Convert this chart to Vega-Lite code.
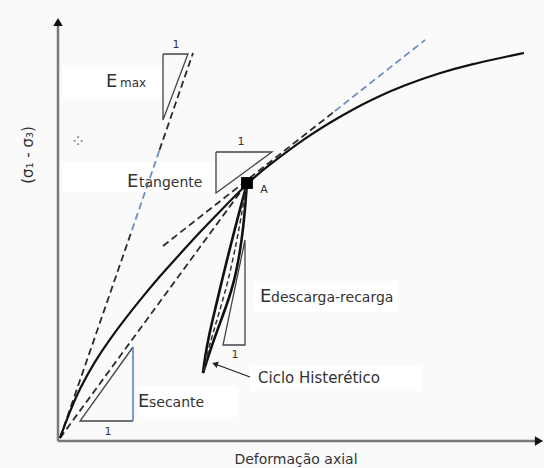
{
  "$schema": "https://vega.github.io/schema/vega-lite/v6.json",
  "width": 544,
  "height": 468,
  "autosize": {"type": "fit", "contains": "padding"},
  "padding": 0,
  "background": "#fafafa",
  "config": {"view": {"stroke": null}, "text": {"font": "DejaVu Sans", "color": "#333333"}},
  "encoding": {
    "x": {"field": "x", "type": "quantitative", "scale": {"domain": [-58, 486], "nice": false, "zero": false}, "axis": null},
    "y": {"field": "y", "type": "quantitative", "scale": {"domain": [-27, 441], "nice": false, "zero": false}, "axis": null}
  },
  "layer": [
    {
      "data": {"values": [
        {"x": 5, "x2": 105, "y": 344, "y2": 376},
        {"x": 5, "x2": 157, "y": 249, "y2": 279},
        {"x": 197, "x2": 340, "y": 129, "y2": 160},
        {"x": 192, "x2": 364, "y": 50, "y2": 75},
        {"x": 79, "x2": 179, "y": 24, "y2": 55}
      ]},
      "mark": {"type": "rect", "fill": "#ffffff"},
      "encoding": {"x2": {"field": "x2"}, "y2": {"field": "y2"}}
    },
    {
      "data": {"values": [
        {"x": 0, "y": 0, "x2": 0, "y2": 417},
        {"x": 0, "y": 0, "x2": 479, "y2": 0}
      ]},
      "mark": {"type": "rule", "stroke": "#7a7a7a", "strokeWidth": 2.5},
      "encoding": {"x2": {"field": "x2"}, "y2": {"field": "y2"}}
    },
    {
      "data": {"values": [
        {"x": 0, "y": 419, "dir": "up"},
        {"x": 481, "y": 0, "dir": "right"}
      ]},
      "mark": {"type": "point", "filled": true, "color": "#111111", "size": 90, "opacity": 1},
      "encoding": {"shape": {"field": "dir", "type": "nominal", "scale": {"domain": ["up", "right"], "range": ["triangle-up", "triangle-right"]}, "legend": null}}
    },
    {
      "data": {"values": [
        {"seg": "emax1", "x": 2, "y": 3}, {"seg": "emax1", "x": 74, "y": 211},
        {"seg": "emax3", "x": 101.5, "y": 291}, {"seg": "emax3", "x": 135, "y": 388},
        {"seg": "secant", "x": 2, "y": 3}, {"seg": "secant", "x": 189, "y": 258},
        {"seg": "tan1", "x": 105, "y": 195}, {"seg": "tan1", "x": 277, "y": 330}
      ]},
      "mark": {"type": "line", "color": "#2a2a2a", "strokeWidth": 1.8, "strokeDash": [7, 4]},
      "encoding": {"detail": {"field": "seg"}}
    },
    {
      "data": {"values": [
        {"seg": "emax2", "x": 74, "y": 211}, {"seg": "emax2", "x": 101.5, "y": 291},
        {"seg": "tan2", "x": 277, "y": 330}, {"seg": "tan2", "x": 367, "y": 401}
      ]},
      "mark": {"type": "line", "color": "#6d8fc4", "strokeWidth": 1.8, "strokeDash": [7, 4]},
      "encoding": {"detail": {"field": "seg"}}
    },
    {
      "data": {"values": [
        {"tri": "emax", "i": 0, "x": 105, "y": 387}, {"tri": "emax", "i": 1, "x": 130, "y": 387}, {"tri": "emax", "i": 2, "x": 105, "y": 321}, {"tri": "emax", "i": 3, "x": 105, "y": 387},
        {"tri": "etan", "i": 0, "x": 158, "y": 289}, {"tri": "etan", "i": 1, "x": 214, "y": 289}, {"tri": "etan", "i": 2, "x": 158, "y": 248}, {"tri": "etan", "i": 3, "x": 158, "y": 289},
        {"tri": "edesc", "i": 0, "x": 187, "y": 201}, {"tri": "edesc", "i": 1, "x": 187, "y": 96}, {"tri": "edesc", "i": 2, "x": 165, "y": 96}, {"tri": "edesc", "i": 3, "x": 187, "y": 201},
        {"tri": "esec", "i": 0, "x": 75, "y": 94}, {"tri": "esec", "i": 1, "x": 22, "y": 20}, {"tri": "esec", "i": 2, "x": 75, "y": 20}
      ]},
      "mark": {"type": "line", "color": "#444444", "strokeWidth": 1.3},
      "encoding": {"detail": {"field": "tri"}, "order": {"field": "i", "type": "quantitative"}}
    },
    {
      "data": {"values": [{"x": 75, "y": 20, "y2": 94}]},
      "mark": {"type": "rule", "stroke": "#5b86c8", "strokeWidth": 1.6},
      "encoding": {"y2": {"field": "y2"}}
    },
    {
      "data": {"values": [
        {"x": 2, "y": 3}, {"x": 12, "y": 30}, {"x": 22, "y": 53}, {"x": 37, "y": 80},
        {"x": 52, "y": 102}, {"x": 67, "y": 122}, {"x": 82, "y": 141}, {"x": 102, "y": 165},
        {"x": 122, "y": 187}, {"x": 142, "y": 209}, {"x": 167, "y": 235}, {"x": 189, "y": 257},
        {"x": 200, "y": 267}, {"x": 214, "y": 278}, {"x": 247, "y": 303}, {"x": 281, "y": 324},
        {"x": 314, "y": 342}, {"x": 347, "y": 356}, {"x": 381, "y": 368}, {"x": 414, "y": 377},
        {"x": 447, "y": 384}, {"x": 466, "y": 388}
      ]},
      "mark": {"type": "line", "color": "#111111", "strokeWidth": 2.2, "interpolate": "basis"}
    },
    {
      "data": {"values": [
        {"b": "left", "x": 189, "y": 258}, {"b": "left", "x": 181, "y": 228}, {"b": "left", "x": 174, "y": 201}, {"b": "left", "x": 164, "y": 161},
        {"b": "left", "x": 157, "y": 131}, {"b": "left", "x": 151, "y": 106}, {"b": "left", "x": 147, "y": 84}, {"b": "left", "x": 145, "y": 68},
        {"b": "right", "x": 189, "y": 258}, {"b": "right", "x": 187, "y": 231}, {"b": "right", "x": 184, "y": 201}, {"b": "right", "x": 177, "y": 161},
        {"b": "right", "x": 168, "y": 134}, {"b": "right", "x": 159, "y": 110}, {"b": "right", "x": 151, "y": 87}, {"b": "right", "x": 145, "y": 68}
      ]},
      "mark": {"type": "line", "color": "#111111", "strokeWidth": 2.6, "interpolate": "basis"},
      "encoding": {"detail": {"field": "b"}}
    },
    {
      "data": {"values": [
        {"x": 189, "y": 258}, {"x": 184, "y": 229}, {"x": 179, "y": 201}, {"x": 170.5, "y": 161},
        {"x": 162.5, "y": 133}, {"x": 155, "y": 108}, {"x": 149, "y": 86}, {"x": 146, "y": 70}
      ]},
      "mark": {"type": "line", "color": "#333333", "strokeWidth": 1.5, "strokeDash": [5, 3], "interpolate": "basis"}
    },
    {
      "data": {"values": [{"x": 189, "y": 258}]},
      "mark": {"type": "square", "color": "#000000", "size": 140, "opacity": 1}
    },
    {
      "data": {"values": [{"x": 192, "y": 64, "x2": 157, "y2": 77}]},
      "mark": {"type": "rule", "stroke": "#222222", "strokeWidth": 1.3},
      "encoding": {"x2": {"field": "x2"}, "y2": {"field": "y2"}}
    },
    {
      "data": {"values": [{"x": 157, "y": 77}]},
      "mark": {"type": "point", "shape": "triangle-up", "filled": true, "color": "#222222", "size": 45, "angle": 289, "opacity": 1}
    },
    {
      "data": {"values": [
        {"x": 48, "y": 354, "t": "E"}, {"x": 69, "y": 254, "t": "E"}, {"x": 202, "y": 139, "t": "E"}, {"x": 80, "y": 34, "t": "E"}
      ]},
      "mark": {"type": "text", "fontSize": 18, "align": "left", "baseline": "alphabetic"},
      "encoding": {"text": {"field": "t"}}
    },
    {
      "data": {"values": [
        {"x": 81, "y": 254, "t": "tangente"}, {"x": 213, "y": 139, "t": "descarga-recarga"}, {"x": 91, "y": 34, "t": "secante"}
      ]},
      "mark": {"type": "text", "fontSize": 14, "align": "left", "baseline": "alphabetic"},
      "encoding": {"text": {"field": "t"}}
    },
    {
      "data": {"values": [{"x": 62, "y": 354, "t": "max"}]},
      "mark": {"type": "text", "fontSize": 12, "align": "left", "baseline": "alphabetic"},
      "encoding": {"text": {"field": "t"}}
    },
    {
      "data": {"values": [
        {"x": 118, "y": 396, "t": "1"}, {"x": 183, "y": 299, "t": "1"}, {"x": 177, "y": 86, "t": "1"}, {"x": 50, "y": 9, "t": "1"}, {"x": 206, "y": 251, "t": "A"}
      ]},
      "mark": {"type": "text", "fontSize": 11, "align": "center", "baseline": "middle"},
      "encoding": {"text": {"field": "t"}}
    },
    {
      "data": {"values": [{"x": 200, "y": 58, "t": "Ciclo Histerético"}]},
      "mark": {"type": "text", "fontSize": 15, "align": "left", "baseline": "alphabetic"},
      "encoding": {"text": {"field": "t"}}
    },
    {
      "data": {"values": [{"x": 238, "y": -19, "t": "Deformação axial"}]},
      "mark": {"type": "text", "fontSize": 14, "align": "center", "baseline": "middle"},
      "encoding": {"text": {"field": "t"}}
    },
    {
      "data": {"values": [{"x": -30, "y": 286, "t": "(σ₁ - σ₃)"}]},
      "mark": {"type": "text", "fontSize": 15, "align": "center", "baseline": "middle", "angle": 270},
      "encoding": {"text": {"field": "t"}}
    },
    {
      "data": {"values": [{"x": 20, "y": 299, "t": "⁘"}]},
      "mark": {"type": "text", "fontSize": 18, "align": "center", "baseline": "middle", "color": "#888888"},
      "encoding": {"text": {"field": "t"}}
    }
  ]
}
